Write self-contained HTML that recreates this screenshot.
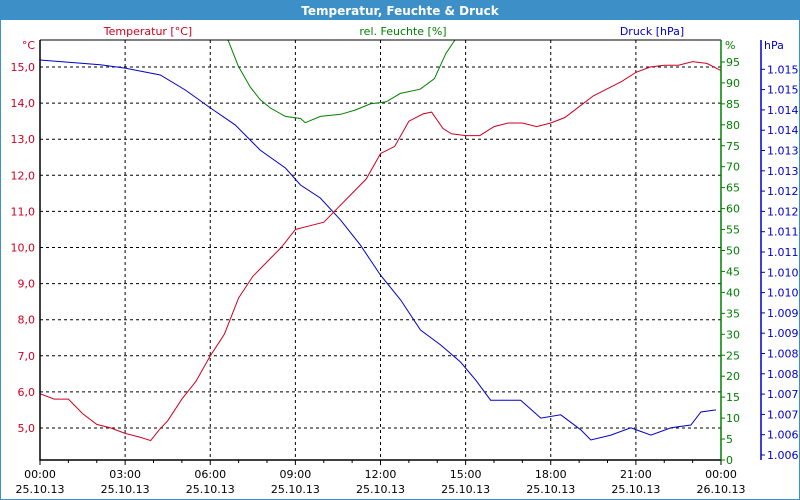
<!DOCTYPE html>
<html><head><meta charset="utf-8"><style>
body{margin:0;background:#fff}
svg{display:block;font-family:Tahoma,"DejaVu Sans","Liberation Sans",sans-serif}
</style></head><body>
<svg id="chart" width="800" height="500" viewBox="0 0 800 500">
<rect x="0.5" y="0.5" width="799" height="499" fill="#fff" stroke="#3d8fc7"/>
<rect x="0" y="0" width="800" height="20" fill="#3d8fc7"/>
<text x="400" y="15" text-anchor="middle" fill="#fff" font-weight="bold" font-size="12">Temperatur, Feuchte &amp; Druck</text>
<text x="148" y="35" text-anchor="middle" fill="#d00020" font-size="11">Temperatur [°C]</text>
<text x="403" y="35" text-anchor="middle" fill="#008000" font-size="11">rel. Feuchte [%]</text>
<text x="652" y="35" text-anchor="middle" fill="#0000cc" font-size="11">Druck [hPa]</text>
<g id="grid"></g><g id="series"></g><g id="axes"></g>
</svg>
<script>
const tempTimes=[0,0.5,1,1.5,2,2.5,3,3.5,3.9,4.2,4.5,5,5.5,6,6.5,7,7.5,8,8.5,9,9.5,10,10.5,11,11.5,12,12.5,13,13.5,13.8,14.2,14.5,15,15.5,16,16.5,17,17.5,18,18.5,19,19.5,20,20.5,21,21.5,22,22.5,23,23.5,24];
const tempValues=[5.95,5.8,5.8,5.4,5.1,5.0,4.85,4.75,4.65,4.95,5.2,5.8,6.3,7.0,7.6,8.6,9.2,9.6,10.0,10.5,10.6,10.7,11.1,11.5,11.9,12.6,12.8,13.5,13.7,13.75,13.3,13.15,13.1,13.1,13.35,13.45,13.45,13.35,13.45,13.6,13.9,14.2,14.4,14.6,14.85,15.0,15.05,15.05,15.15,15.1,14.9];
const humTimes=[6.3,6.64,6.99,7.41,7.76,8.12,8.65,9.18,9.35,9.88,10.6,11.1,11.65,12.2,12.7,13.4,13.9,14.3,14.65];
const humValues=[103,100,94,89,86,84,82,81.5,80.5,82,82.5,83.5,85,85.5,87.5,88.5,91,97,100.5];
const presTimes=[0,2.12,3.0,4.24,5.12,6.0,6.88,7.76,8.65,9.18,9.88,10.59,11.29,12.0,12.71,13.41,14.12,14.82,15.35,15.88,16.94,17.65,18.35,19.06,19.41,20.12,20.82,21.53,22.24,22.94,23.29,23.82];
const presValues=[1015.73,1015.61,1015.53,1015.36,1014.99,1014.55,1014.13,1013.51,1013.07,1012.65,1012.33,1011.79,1011.17,1010.43,1009.82,1009.08,1008.71,1008.29,1007.85,1007.35,1007.35,1006.91,1006.99,1006.62,1006.37,1006.49,1006.67,1006.49,1006.67,1006.74,1007.06,1007.11];
const tempTicks=[15,14,13,12,11,10,9,8,7,6,5];
const humTicks=[0,5,10,15,20,25,30,35,40,45,50,55,60,65,70,75,80,85,90,95];
const presTickValues=[1015.5,1015,1014.5,1014,1013.5,1013,1012.5,1012,1011.5,1011,1010.5,1010,1009.5,1009,1008.5,1008,1007.5,1007,1006.5,1006];
const presTickLabels=["1.015","1.015","1.014","1.014","1.013","1.013","1.012","1.012","1.011","1.011","1.010","1.010","1.009","1.009","1.008","1.008","1.007","1.007","1.006","1.006"];
const timeTicks=[0,3,6,9,12,15,18,21,24];
const timeLabels=["00:00","03:00","06:00","09:00","12:00","15:00","18:00","21:00","00:00"];
const dateLabels=["25.10.13","25.10.13","25.10.13","25.10.13","25.10.13","25.10.13","25.10.13","25.10.13","26.10.13"];

const L=40,R=721,T=40,B=460;
const xs=h=>L+h*(R-L)/24;
const yT=v=>67+(15-v)*36.1;
const yH=v=>460-v*4.19;
const yP=v=>455-(v-1006)/0.5*20.3;
const NS="http://www.w3.org/2000/svg";
function mk(tag,attrs,parent,txt){const e=document.createElementNS(NS,tag);for(const k in attrs)e.setAttribute(k,attrs[k]);if(txt!==undefined)e.textContent=txt;parent.appendChild(e);return e;}
const grid=document.getElementById('grid'),ser=document.getElementById('series'),ax=document.getElementById('axes');
// clip
const defs=mk('defs',{},document.getElementById('chart'));
const cp=mk('clipPath',{id:'pc'},defs);mk('rect',{x:L,y:T,width:R-L,height:B-T},cp);
// horizontal grid
tempTicks.forEach(v=>{if(v===5||v<15||true){const y=yT(v);
const g=mk('line',{x1:L,x2:R,y1:y,y2:y,stroke:'#000','stroke-dasharray':'3,3'},grid);


const t=mk('text',{x:35,y:y+4,'text-anchor':'end',fill:'#d00020','font-size':'11'},ax,v.toFixed(1).replace('.',','));

}});
timeTicks.forEach((h,i)=>{const x=xs(h);
if(i>0&&i<timeTicks.length-1){const g=mk('line',{x1:x,x2:x,y1:T,y2:B,stroke:'#000','stroke-dasharray':'3,3'},grid);

}
const t1=mk('text',{x:x,y:478,'text-anchor':'middle',fill:'#000','font-size':'11'},ax,timeLabels[i]);


const t2=mk('text',{x:x,y:493,'text-anchor':'middle',fill:'#000','font-size':'11'},ax,dateLabels[i]);

});
for(let h=0;h<=24;h++){const x=xs(h);const tk=mk('line',{x1:x,x2:x,y1:B,y2:B+(h%3===0?5:3),stroke:'#000'},ax);

}
// axes lines
const a1=mk('polyline',{points:`${L},${T} ${L},${B} ${R},${B}`,fill:'none',stroke:'#000','stroke-width':1.5},ax);


const a2=mk('line',{x1:L,x2:R,y1:T,y2:T,stroke:'#000'},ax);


const a3=mk('line',{x1:R,x2:R,y1:T,y2:B,stroke:'#008000','stroke-width':1.5},ax);


const a4=mk('line',{x1:761,x2:761,y1:T,y2:B,stroke:'#0000cc','stroke-width':1.5},ax);


const u1=mk('text',{x:35,y:49,'text-anchor':'end',fill:'#d00020','font-size':'11'},ax,'°C');


const u2=mk('text',{x:725,y:49,fill:'#008000','font-size':'11'},ax,'%');


const u3=mk('text',{x:764,y:49,fill:'#0000cc','font-size':'11'},ax,'hPa');


humTicks.forEach(v=>{const y=yH(v);
const tk=mk('line',{x1:R,x2:R+4,y1:y,y2:y,stroke:'#008000'},ax);


const t=mk('text',{x:726,y:y+4,fill:'#008000','font-size':'11'},ax,String(v));

});
presTickValues.forEach((v,i)=>{const y=yP(v);
const tk=mk('line',{x1:761,x2:765,y1:y,y2:y,stroke:'#0000cc'},ax);


const t=mk('text',{x:767,y:y+4,fill:'#0000cc','font-size':'11'},ax,presTickLabels[i]);

});
function line(times,vals,yf,color,name){const pts=times.map((h,i)=>xs(h).toFixed(1)+','+yf(vals[i]).toFixed(1)).join(' ');
const p=mk('polyline',{points:pts,fill:'none',stroke:color,'stroke-width':1,'clip-path':'url(#pc)'},ser);

}
line(presTimes,presValues,yP,'#0000cc','pressure-line');
line(humTimes,humValues,yH,'#008000','humidity-line');
line(tempTimes,tempValues,yT,'#d00020','temperature-line');
</script>
</body></html>
